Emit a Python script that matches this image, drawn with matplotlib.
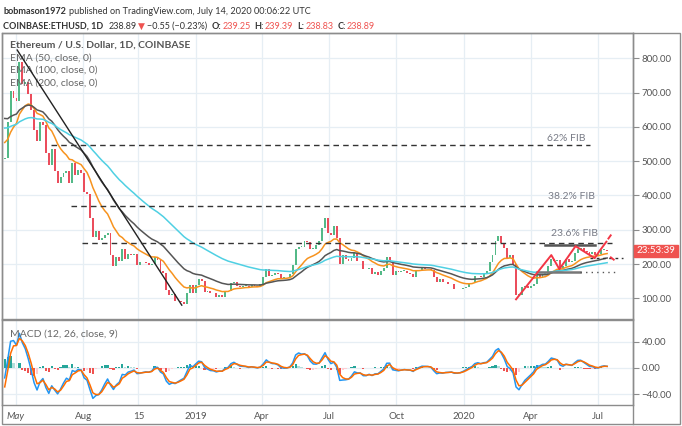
import numpy as np
import matplotlib
matplotlib.use('Agg')
import matplotlib.pyplot as plt
import matplotlib.dates as mdates
from matplotlib.patches import Rectangle

plt.rcParams['font.family'] = ['Lato', 'DejaVu Sans']

W, H = 682, 426

# ---- data (closes every 4 days) ----
start_date = '2018-04-16'
step_days = 4
closes = [
    510, 615, 705, 685, 675, 790, 725, 730, 695, 650, 590, 560,
    615, 605, 525, 490, 535, 470, 435, 455, 465, 470, 435, 495, 460, 475, 465,
    410, 405, 335, 280, 295, 270, 275, 285, 290, 225, 195, 220, 210, 245, 215,
    230, 225, 228, 198, 205, 205, 203, 196, 200, 220, 212, 180, 175, 125, 110, 113,
    92, 93, 88, 84, 115, 140, 115,
    # 2019
    140, 155, 150, 118, 122, 115, 115, 105, 110, 105, 122, 120, 145, 148, 136,
    132, 137, 137, 133, 140, 136, 134, 142,
    162, 185, 166, 168, 174, 170, 157, 161, 163, 170, 196, 245, 250, 250, 268,
    265, 245, 245, 255, 267, 305, 335, 290, 285, 310, 275, 200, 225, 215, 208,
    218, 232, 210, 208, 185, 185, 188, 170, 178, 169, 180, 188, 220, 210, 168, 180,
    176, 180, 180, 174, 172, 162, 181, 182, 188, 185, 186, 183, 161, 147, 155,
    147, 148, 143, 141, 128, 127, 126, 129,
    # 2020
    134, 141, 146, 164, 166, 162, 175, 180, 205, 225, 268, 282, 262, 248, 218,
    225, 200, 110, 110, 132, 135, 131, 135, 143, 170, 158, 171, 172, 194, 215,
    210, 212, 187, 195, 214, 207, 208, 231, 244, 246, 238, 234, 229, 234, 227,
    230, 241, 242, 239,
]
first_open = 505

ema_periods = [50, 100, 200]
ema_start = [562, 634, 600]          # values at the left edge of the chart
macd_periods = [12, 26, 9]
macd_start = [509, 530, -49]         # fast ema, slow ema, signal at the left edge

fib_names = ['62% FIB', '38.2% FIB', '23.6% FIB']
fib_prices = [547, 369, 260]
fib_from = ['2018-06-18', '2018-07-15', '2018-07-30']
fib_to = ['2020-06-21', '2020-06-24', '2020-07-21']
fib_label_at = [('2020-05-19', 565), ('2020-05-26', 396), ('2020-05-30', 288)]

trend_line = [('2018-05-03', 824), ('2018-12-13', 80)]
zigzag = [('2020-03-12', 97), ('2020-04-29', 226), ('2020-05-10', 185),
          ('2020-06-01', 252), ('2020-06-27', 217), ('2020-07-04', 239),
          ('2020-07-13', 265)]
zigzag_up = [('2020-07-15', 272), ('2020-07-24', 299)]
zigzag_down = [('2020-07-18', 221), ('2020-07-24', 211)]
range_top = [('2020-04-21', 256), ('2020-06-27', 256)]
range_bottom = [('2020-04-09', 178), ('2020-06-07', 178)]
range_bottom_ext = [('2020-06-07', 178), ('2020-07-25', 178)]
support_ext = [('2020-06-20', 217), ('2020-08-04', 217)]

price_ticks = [100, 200, 300, 400, 500, 600, 700, 800]
macd_ticks = [-40, 0, 40]
date_ticks = ['2018-05-01', '2018-08-01', '2018-10-15', '2019-01-01', '2019-04-01',
              '2019-07-01', '2019-10-01', '2020-01-01', '2020-04-01', '2020-07-01']
date_labels = ['May', 'Aug', '15', '2019', 'Apr', 'Jul', 'Oct', '2020', 'Apr', 'Jul']


def dnum(s):
    return mdates.date2num(np.datetime64(s))


def ema(values, period, init):
    a = 1 - (1 - 2.0 / (period + 1)) ** step_days
    out = []
    e = init
    for v in values:
        e = e + a * (v - e)
        out.append(e)
    return np.array(out)


closes = np.array(closes, dtype=float)
dates = np.datetime64(start_date) + np.arange(len(closes)) * np.timedelta64(step_days, 'D')
x = mdates.date2num(dates)
opens = np.concatenate([[first_open], closes[:-1]])

fig = plt.figure(figsize=(W / 100, H / 100), dpi=100)
ax = fig.add_axes([2 / W, 1 - 319 / H, 631 / W, 286 / H])
axm = fig.add_axes([2 / W, 1 - 405 / H, 631 / W, 85 / H], sharex=ax)

grid_c = '#e6eef4'
spine_c = '#8c8c8c'
txt_c = '#555555'

for a in (ax, axm):
    for s in a.spines.values():
        s.set_color(spine_c)
        s.set_linewidth(1)
    a.yaxis.tick_right()
    a.tick_params(axis='y', length=4, color=spine_c, labelcolor=txt_c, labelsize=7, pad=2)
    a.grid(True, color=grid_c, lw=0.9)
    a.set_axisbelow(True)

# candles
up = closes >= opens
lo = np.minimum(opens, closes)
hi = np.maximum(opens, closes)
ax.bar(x, np.maximum(hi - lo, 1.5), bottom=lo, width=2.6,
       color=np.where(up, '#53b987', '#eb4d5c'), linewidth=0, zorder=3)

# EMAs
ema_colors = ['#f7931e', '#555555', '#4fd0e3']
for p, s, c in zip(ema_periods, ema_start, ema_colors):
    ax.plot(x, ema(closes, p, s), color=c, lw=1.1, zorder=4)

# drawings
def draw(pts, **kw):
    ax.plot([dnum(d) for d, _ in pts], [v for _, v in pts], **kw)

draw(trend_line, color='#222222', lw=1.0, zorder=5)
for name, p, d0, d1, (ld, lp) in zip(fib_names, fib_prices, fib_from, fib_to, fib_label_at):
    ax.plot([dnum(d0), dnum(d1)], [p, p], color='#333333', lw=1.0, ls=(0, (4, 3)), zorder=5)
    ax.text(dnum(ld), lp, name, color='#787b86', fontsize=7.5, ha='center', va='center')
draw(range_top, color='#555555', lw=1.8, zorder=5)
draw(range_bottom, color='#777777', lw=1.8, zorder=5)
draw(range_bottom_ext, color='#555555', lw=1.0, ls=(0, (1, 3)), zorder=5)
draw(support_ext, color='#333333', lw=1.0, ls=(0, (2, 2.5)), zorder=5)
draw(zigzag, color='#f23645', lw=1.4, zorder=6)
draw(zigzag_up, color='#f23645', lw=1.4, ls=(0, (3, 3)), zorder=6)
draw(zigzag_down, color='#f23645', lw=1.4, ls=(0, (3, 3)), zorder=6)

ax.set_ylim(39.6, 873.7)
ax.set_yticks(price_ticks)
ax.set_yticklabels(['%.2f' % v for v in price_ticks])

# MACD
fast = ema(closes, macd_periods[0], macd_start[0])
slow = ema(closes, macd_periods[1], macd_start[1])
macd = fast - slow
signal = ema(macd, macd_periods[2], macd_start[2])
hist = macd - signal
prev = np.concatenate([[hist[0]], hist[:-1]])
hcol = np.where(hist >= 0, np.where(hist >= prev, '#26a69a', '#b2dfdb'),
                np.where(hist < prev, '#ef5350', '#ffcdd2'))
axm.bar(x, hist, width=3.0, color=hcol, linewidth=0, zorder=2)
axm.plot(x, macd, color='#2196f3', lw=1.1, zorder=3)
axm.plot(x, signal, color='#ff6d00', lw=1.1, zorder=3)
axm.set_ylim(-56.9, 73.8)
axm.set_yticks(macd_ticks)
axm.set_yticklabels(['\u221240.00', '0.00', '40.00'])

x0 = dnum('2019-01-01')
axm.set_xlim(x0 - 263.7, x0 + 595.2)
axm.set_xticks([dnum(d) for d in date_ticks])
axm.set_xticklabels(date_labels)
axm.tick_params(axis='x', length=0, labelcolor=txt_c, labelsize=7, pad=5)
axm.get_xticklabels()[0].set_style('italic')
ax.tick_params(axis='x', length=0, labelbottom=False)

# last price countdown box
ly = ax.transData.transform((0, closes[-1]))[1]
fig.patches.append(Rectangle((634 / W, (ly - 6) / H), 44 / W, 12 / H,
                             transform=fig.transFigure, color='#ef5350', zorder=10))
fig.text(656 / W, ly / H, '23:53:39', color='white', fontsize=7, ha='center', va='center',
         zorder=12)

# outer frame
fig.patches.append(Rectangle((2 / W, 1 - 424 / H), 678 / W, 391 / H, transform=fig.transFigure,
                             fill=False, edgecolor=spine_c, lw=1))
fig.lines.append(plt.Line2D([633 / W, 633 / W], [1 - 424 / H, 1 - 33 / H],
                            transform=fig.transFigure, color=spine_c, lw=1))

# legend texts
ax.text(8 / 631, 1 - 12 / 286, 'Ethereum / U.S. Dollar, 1D, COINBASE', transform=ax.transAxes,
        color=txt_c, fontsize=7.5, weight='bold', va='center')
for i, p in enumerate(ema_periods):
    ax.text(8 / 631, 1 - (25 + 12.5 * i) / 286, 'EMA (%d, close, 0)' % p, transform=ax.transAxes,
            color='#666666', fontsize=7.5, va='center')
axm.text(8 / 631, 1 - 14 / 85, 'MACD (12, 26, close, 9)', transform=axm.transAxes,
         color='#666666', fontsize=7.5, va='center')

# header: pieces chained one after another, gap in pixels before each piece
dark = '#333333'
red = '#ef5350'


def chain(parts, px, py, fs):
    t = None
    for gap, s, c, w in parts:
        if t is None:
            t = fig.text(px / W, 1 - py / H, s, color=c, weight=w, fontsize=fs,
                         va='bottom', ha='left')
        else:
            t = ax.annotate(s, xy=(1, 0), xycoords=t, xytext=(gap * 0.72, 0),
                            textcoords='offset points', color=c, weight=w, fontsize=fs,
                            va='bottom', ha='left', annotation_clip=False)


chain([(0, 'bobmason1972', dark, 'bold'),
       (3, 'published on TradingView.com, July 14, 2020 00:06:22 UTC', dark, 'normal')],
      3, 16, 6.6)
chain([(0, 'COINBASE:ETHUSD, 1D', dark, 'bold'), (5, '238.89', dark, 'normal'),
       (2, '\u25bc', red, 'normal'), (2, '\u22120.55 (\u22120.23%)', dark, 'normal'),
       (4, 'O:', dark, 'bold'), (1, '239.25', red, 'normal'),
       (4, 'H:', dark, 'bold'), (1, '239.39', red, 'normal'),
       (4, 'L:', dark, 'bold'), (1, '238.83', red, 'normal'),
       (4, 'C:', dark, 'bold'), (1, '238.89', red, 'normal')], 3, 31, 6.5)

fig.savefig('out.png', dpi=100)
